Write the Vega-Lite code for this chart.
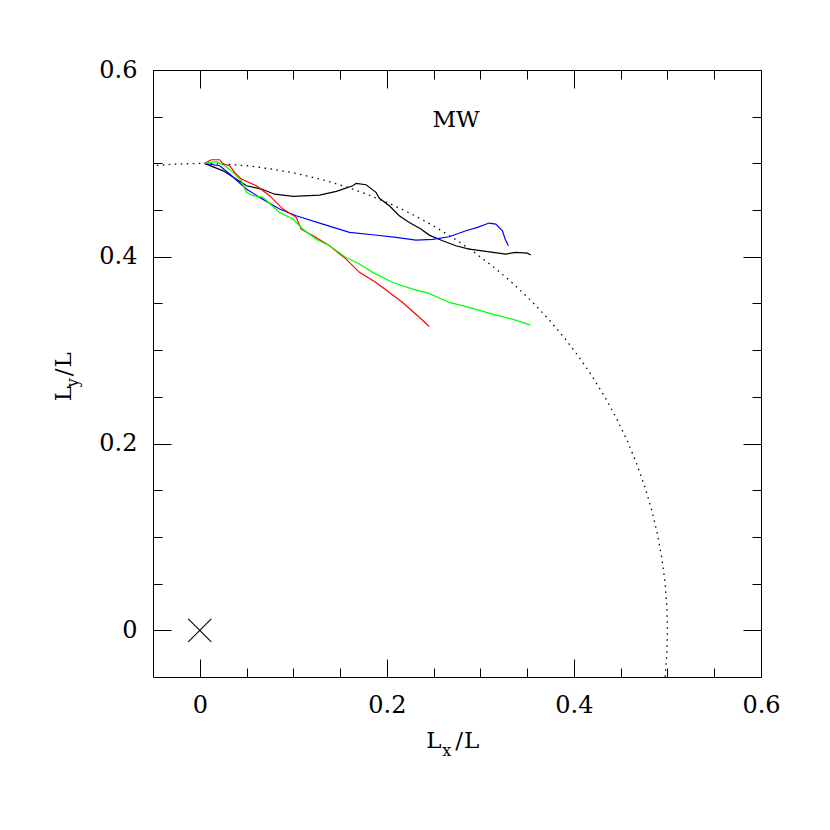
{
  "$schema": "https://vega.github.io/schema/vega-lite/v6.json",
  "autosize": "none",
  "width": 608,
  "height": 607,
  "padding": {"left": 153, "top": 70, "right": 69, "bottom": 153},
  "background": "white",
  "config": {
    "view": {"stroke": "#000000", "strokeWidth": 1},
    "axis": {"grid": false, "domain": false, "title": null, "tickColor": "#000000", "tickWidth": 1, "labelFont": "DejaVu Serif", "labelFontSize": 24, "labelColor": "#000000", "labelFlush": false},
    "text": {"font": "DejaVu Serif", "color": "#000000"}
  },
  "resolve": {"axis": {"x": "independent", "y": "independent"}},
  "datasets": {
    "circle": [
      {"i": 0, "x": -0.0523, "y": 0.4973}, {"i": 1, "x": -0.0262, "y": 0.4993}, {"i": 2, "x": 0.0, "y": 0.5},
      {"i": 3, "x": 0.0262, "y": 0.4993}, {"i": 4, "x": 0.0523, "y": 0.4973}, {"i": 5, "x": 0.0782, "y": 0.4938},
      {"i": 6, "x": 0.104, "y": 0.4891}, {"i": 7, "x": 0.1294, "y": 0.483}, {"i": 8, "x": 0.1545, "y": 0.4755},
      {"i": 9, "x": 0.1792, "y": 0.4668}, {"i": 10, "x": 0.2034, "y": 0.4568}, {"i": 11, "x": 0.227, "y": 0.4455},
      {"i": 12, "x": 0.25, "y": 0.433}, {"i": 13, "x": 0.2723, "y": 0.4193}, {"i": 14, "x": 0.2939, "y": 0.4045},
      {"i": 15, "x": 0.3147, "y": 0.3886}, {"i": 16, "x": 0.3346, "y": 0.3716}, {"i": 17, "x": 0.3536, "y": 0.3536},
      {"i": 18, "x": 0.3716, "y": 0.3346}, {"i": 19, "x": 0.3886, "y": 0.3147}, {"i": 20, "x": 0.4045, "y": 0.2939},
      {"i": 21, "x": 0.4193, "y": 0.2723}, {"i": 22, "x": 0.433, "y": 0.25}, {"i": 23, "x": 0.4455, "y": 0.227},
      {"i": 24, "x": 0.4568, "y": 0.2034}, {"i": 25, "x": 0.4668, "y": 0.1792}, {"i": 26, "x": 0.4755, "y": 0.1545},
      {"i": 27, "x": 0.483, "y": 0.1294}, {"i": 28, "x": 0.4891, "y": 0.104}, {"i": 29, "x": 0.4938, "y": 0.0782},
      {"i": 30, "x": 0.4973, "y": 0.0523}, {"i": 31, "x": 0.4993, "y": 0.0262}, {"i": 32, "x": 0.5, "y": 0.0},
      {"i": 33, "x": 0.4993, "y": -0.0262}, {"i": 34, "x": 0.4973, "y": -0.0523}
    ],
    "runs": [
      {"run": "black", "i": 0, "x": 0.005, "y": 0.5}, {"run": "black", "i": 1, "x": 0.025, "y": 0.492},
      {"run": "black", "i": 2, "x": 0.05, "y": 0.476}, {"run": "black", "i": 3, "x": 0.066, "y": 0.4725},
      {"run": "black", "i": 4, "x": 0.08, "y": 0.467}, {"run": "black", "i": 5, "x": 0.1, "y": 0.4647},
      {"run": "black", "i": 6, "x": 0.128, "y": 0.466}, {"run": "black", "i": 7, "x": 0.146, "y": 0.47},
      {"run": "black", "i": 8, "x": 0.1636, "y": 0.4761}, {"run": "black", "i": 9, "x": 0.1671, "y": 0.4786},
      {"run": "black", "i": 10, "x": 0.1778, "y": 0.4771}, {"run": "black", "i": 11, "x": 0.1884, "y": 0.469},
      {"run": "black", "i": 12, "x": 0.192, "y": 0.4626}, {"run": "black", "i": 13, "x": 0.2027, "y": 0.4546},
      {"run": "black", "i": 14, "x": 0.2133, "y": 0.4439}, {"run": "black", "i": 15, "x": 0.224, "y": 0.4368},
      {"run": "black", "i": 16, "x": 0.2364, "y": 0.4297}, {"run": "black", "i": 17, "x": 0.2453, "y": 0.4232},
      {"run": "black", "i": 18, "x": 0.2596, "y": 0.4171}, {"run": "black", "i": 19, "x": 0.2738, "y": 0.4118},
      {"run": "black", "i": 20, "x": 0.288, "y": 0.4082}, {"run": "black", "i": 21, "x": 0.3058, "y": 0.4058},
      {"run": "black", "i": 22, "x": 0.3271, "y": 0.4029}, {"run": "black", "i": 23, "x": 0.3378, "y": 0.4047},
      {"run": "black", "i": 24, "x": 0.3502, "y": 0.4039}, {"run": "black", "i": 25, "x": 0.3538, "y": 0.4018},

      {"run": "blue", "i": 0, "x": 0.005, "y": 0.5}, {"run": "blue", "i": 1, "x": 0.0213, "y": 0.4975},
      {"run": "blue", "i": 2, "x": 0.032, "y": 0.4886}, {"run": "blue", "i": 3, "x": 0.0498, "y": 0.4725},
      {"run": "blue", "i": 4, "x": 0.064, "y": 0.4636}, {"run": "blue", "i": 5, "x": 0.0853, "y": 0.4511},
      {"run": "blue", "i": 6, "x": 0.1031, "y": 0.4439}, {"run": "blue", "i": 7, "x": 0.1316, "y": 0.435},
      {"run": "blue", "i": 8, "x": 0.16, "y": 0.4261}, {"run": "blue", "i": 9, "x": 0.1849, "y": 0.4236},
      {"run": "blue", "i": 10, "x": 0.2098, "y": 0.4207}, {"run": "blue", "i": 11, "x": 0.2311, "y": 0.4179},
      {"run": "blue", "i": 12, "x": 0.2489, "y": 0.4186}, {"run": "blue", "i": 13, "x": 0.2667, "y": 0.4214},
      {"run": "blue", "i": 14, "x": 0.2845, "y": 0.4279}, {"run": "blue", "i": 15, "x": 0.2969, "y": 0.4315},
      {"run": "blue", "i": 16, "x": 0.3093, "y": 0.4361}, {"run": "blue", "i": 17, "x": 0.3165, "y": 0.435},
      {"run": "blue", "i": 18, "x": 0.3236, "y": 0.4279}, {"run": "blue", "i": 19, "x": 0.3264, "y": 0.419},
      {"run": "blue", "i": 20, "x": 0.3299, "y": 0.4118},

      {"run": "red", "i": 0, "x": 0.005, "y": 0.5}, {"run": "red", "i": 1, "x": 0.0124, "y": 0.5039},
      {"run": "red", "i": 2, "x": 0.0213, "y": 0.5039}, {"run": "red", "i": 3, "x": 0.0249, "y": 0.4993},
      {"run": "red", "i": 4, "x": 0.032, "y": 0.4975}, {"run": "red", "i": 5, "x": 0.0373, "y": 0.4904},
      {"run": "red", "i": 6, "x": 0.0444, "y": 0.4832}, {"run": "red", "i": 7, "x": 0.0605, "y": 0.4761},
      {"run": "red", "i": 8, "x": 0.0676, "y": 0.4707}, {"run": "red", "i": 9, "x": 0.0747, "y": 0.4654},
      {"run": "red", "i": 10, "x": 0.0889, "y": 0.4511}, {"run": "red", "i": 11, "x": 0.1031, "y": 0.4422},
      {"run": "red", "i": 12, "x": 0.1084, "y": 0.4297}, {"run": "red", "i": 13, "x": 0.1244, "y": 0.4207},
      {"run": "red", "i": 14, "x": 0.1387, "y": 0.4118}, {"run": "red", "i": 15, "x": 0.1564, "y": 0.3975},
      {"run": "red", "i": 16, "x": 0.1707, "y": 0.3833}, {"run": "red", "i": 17, "x": 0.1884, "y": 0.3725},
      {"run": "red", "i": 18, "x": 0.2027, "y": 0.3618}, {"run": "red", "i": 19, "x": 0.2169, "y": 0.3511},
      {"run": "red", "i": 20, "x": 0.2329, "y": 0.3368}, {"run": "red", "i": 21, "x": 0.2453, "y": 0.3254},

      {"run": "green", "i": 0, "x": 0.005, "y": 0.5}, {"run": "green", "i": 1, "x": 0.0178, "y": 0.5018},
      {"run": "green", "i": 2, "x": 0.0267, "y": 0.4975}, {"run": "green", "i": 3, "x": 0.0356, "y": 0.4904},
      {"run": "green", "i": 4, "x": 0.0444, "y": 0.4814}, {"run": "green", "i": 5, "x": 0.0498, "y": 0.469},
      {"run": "green", "i": 6, "x": 0.0569, "y": 0.4654}, {"run": "green", "i": 7, "x": 0.0676, "y": 0.4636},
      {"run": "green", "i": 8, "x": 0.0853, "y": 0.4475}, {"run": "green", "i": 9, "x": 0.0996, "y": 0.4404},
      {"run": "green", "i": 10, "x": 0.1102, "y": 0.4297}, {"run": "green", "i": 11, "x": 0.1244, "y": 0.4189},
      {"run": "green", "i": 12, "x": 0.1387, "y": 0.4118}, {"run": "green", "i": 13, "x": 0.1564, "y": 0.3993},
      {"run": "green", "i": 14, "x": 0.1707, "y": 0.3922}, {"run": "green", "i": 15, "x": 0.1849, "y": 0.3833},
      {"run": "green", "i": 16, "x": 0.2062, "y": 0.3725}, {"run": "green", "i": 17, "x": 0.2276, "y": 0.3654},
      {"run": "green", "i": 18, "x": 0.2453, "y": 0.3608}, {"run": "green", "i": 19, "x": 0.2667, "y": 0.3511},
      {"run": "green", "i": 20, "x": 0.288, "y": 0.3458}, {"run": "green", "i": 21, "x": 0.3129, "y": 0.3386},
      {"run": "green", "i": 22, "x": 0.3342, "y": 0.3332}, {"run": "green", "i": 23, "x": 0.3538, "y": 0.3268}
    ]
  },
  "layer": [
    {
      "data": {"name": "circle"},
      "mark": {"type": "line", "clip": true, "color": "#000000", "strokeWidth": 1.3, "strokeDash": [1.5, 4.5]},
      "encoding": {
        "x": {"field": "x", "type": "quantitative", "scale": {"domain": [-0.05, 0.6], "nice": false, "zero": false},
              "axis": {"orient": "bottom", "values": [0, 0.2, 0.4, 0.6], "format": "~g", "ticks": false, "tickSize": 0, "labelPadding": 16}},
        "y": {"field": "y", "type": "quantitative", "scale": {"domain": [-0.05, 0.6], "nice": false, "zero": false},
              "axis": {"orient": "left", "values": [0, 0.2, 0.4, 0.6], "format": "~g", "ticks": false, "tickSize": 0, "labelPadding": 16}},
        "order": {"field": "i", "type": "quantitative"}
      }
    },
    {
      "data": {"name": "runs"},
      "mark": {"type": "line", "clip": true, "strokeWidth": 1.2},
      "encoding": {
        "x": {"field": "x", "type": "quantitative", "scale": {"domain": [-0.05, 0.6], "nice": false, "zero": false},
              "axis": {"orient": "bottom", "values": [0, 0.2, 0.4, 0.6], "labels": false, "tickSize": -18}},
        "y": {"field": "y", "type": "quantitative", "scale": {"domain": [-0.05, 0.6], "nice": false, "zero": false},
              "axis": {"orient": "left", "values": [0, 0.2, 0.4, 0.6], "labels": false, "tickSize": -18}},
        "color": {"field": "run", "type": "nominal", "legend": null,
                  "scale": {"domain": ["black", "blue", "red", "green"], "range": ["#000000", "#0000ff", "#ff0000", "#00ff00"]}},
        "order": {"field": "i", "type": "quantitative"}
      }
    },
    {
      "data": {"values": [{"x": 0, "y": 0}]},
      "mark": {"type": "point", "shape": "M-1,-1L1,1M-1,1L1,-1", "size": 529, "filled": false, "color": "#000000", "strokeWidth": 1.1, "opacity": 1},
      "encoding": {
        "x": {"field": "x", "type": "quantitative", "scale": {"domain": [-0.05, 0.6], "nice": false, "zero": false},
              "axis": {"orient": "bottom", "values": [0.05, 0.1, 0.15, 0.25, 0.3, 0.35, 0.45, 0.5, 0.55], "labels": false, "tickSize": -9}},
        "y": {"field": "y", "type": "quantitative", "scale": {"domain": [-0.05, 0.6], "nice": false, "zero": false},
              "axis": {"orient": "left", "values": [0.05, 0.1, 0.15, 0.25, 0.3, 0.35, 0.45, 0.5, 0.55], "labels": false, "tickSize": -9}}
      }
    },
    {
      "data": {"values": [{"label": "MW", "x": 0.274, "y": 0.539}]},
      "mark": {"type": "text", "fontSize": 23, "align": "center", "baseline": "alphabetic"},
      "encoding": {
        "x": {"field": "x", "type": "quantitative", "scale": {"domain": [-0.05, 0.6], "nice": false, "zero": false},
              "axis": {"orient": "top", "values": [0, 0.2, 0.4, 0.6], "labels": false, "tickSize": -18}},
        "y": {"field": "y", "type": "quantitative", "scale": {"domain": [-0.05, 0.6], "nice": false, "zero": false},
              "axis": {"orient": "right", "values": [0, 0.2, 0.4, 0.6], "labels": false, "tickSize": -18}},
        "text": {"field": "label"}
      }
    },
    {
      "data": {"values": [{"label": "L", "x": 0.2421, "y": -0.1255}, {"label": "/", "x": 0.2731, "y": -0.1255}, {"label": "L", "x": 0.2826, "y": -0.1255}]},
      "mark": {"type": "text", "fontSize": 23, "align": "left", "baseline": "alphabetic"},
      "encoding": {
        "x": {"field": "x", "type": "quantitative", "scale": {"domain": [-0.05, 0.6], "nice": false, "zero": false},
              "axis": {"orient": "top", "values": [0.05, 0.1, 0.15, 0.25, 0.3, 0.35, 0.45, 0.5, 0.55], "labels": false, "tickSize": -9}},
        "y": {"field": "y", "type": "quantitative", "scale": {"domain": [-0.05, 0.6], "nice": false, "zero": false},
              "axis": {"orient": "right", "values": [0.05, 0.1, 0.15, 0.25, 0.3, 0.35, 0.45, 0.5, 0.55], "labels": false, "tickSize": -9}},
        "text": {"field": "label"}
      }
    },
    {
      "data": {"values": [{"label": "x", "x": 0.2592, "y": -0.1345}]},
      "mark": {"type": "text", "fontSize": 16, "align": "left", "baseline": "alphabetic"},
      "encoding": {
        "x": {"field": "x", "type": "quantitative", "scale": {"domain": [-0.05, 0.6], "nice": false, "zero": false}, "axis": null},
        "y": {"field": "y", "type": "quantitative", "scale": {"domain": [-0.05, 0.6], "nice": false, "zero": false}, "axis": null},
        "text": {"field": "label"}
      }
    },
    {
      "data": {"values": [{"label": "L", "x": -0.1379, "y": 0.2454}, {"label": "/", "x": -0.1379, "y": 0.272}, {"label": "L", "x": -0.1379, "y": 0.2815}]},
      "mark": {"type": "text", "fontSize": 23, "align": "left", "baseline": "alphabetic", "angle": 270},
      "encoding": {
        "x": {"field": "x", "type": "quantitative", "scale": {"domain": [-0.05, 0.6], "nice": false, "zero": false}, "axis": null},
        "y": {"field": "y", "type": "quantitative", "scale": {"domain": [-0.05, 0.6], "nice": false, "zero": false}, "axis": null},
        "text": {"field": "label"}
      }
    },
    {
      "data": {"values": [{"label": "y", "x": -0.1305, "y": 0.2604}]},
      "mark": {"type": "text", "fontSize": 16, "align": "left", "baseline": "alphabetic", "angle": 270},
      "encoding": {
        "x": {"field": "x", "type": "quantitative", "scale": {"domain": [-0.05, 0.6], "nice": false, "zero": false}, "axis": null},
        "y": {"field": "y", "type": "quantitative", "scale": {"domain": [-0.05, 0.6], "nice": false, "zero": false}, "axis": null},
        "text": {"field": "label"}
      }
    }
  ]
}
